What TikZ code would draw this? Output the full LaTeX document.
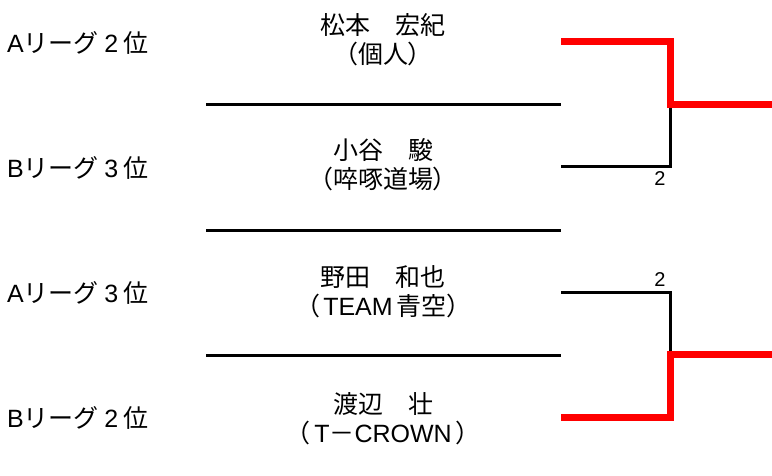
\documentclass[tikz,border=0pt]{standalone}
\usepackage{fontspec}
\setmainfont{Noto Sans CJK JP}
\newfontfamily\pfont[RawFeature=+palt]{Noto Sans CJK JP}
\newfontfamily\lat{Liberation Sans}
\newcommand{\lp}{{\pfont （}}
\newcommand{\rp}{{\pfont ）}}
\newcommand{\dg}[1]{\makebox[1em]{\lat #1}}
\begin{document}
\begin{tikzpicture}[x=1pt,y=-1pt,
  lbl/.style={anchor=west,inner sep=0pt,font=\fontsize{25}{30}\selectfont},
  namebox/.style={align=center,inner sep=0pt,font=\fontsize{25}{29}\selectfont},
  sep/.style={line width=3pt},
  lose/.style={line width=3pt,line join=miter},
  win/.style={line width=7pt,draw=red,line join=miter},
  score/.style={inner sep=0pt,font=\lat\fontsize{20}{20}\selectfont}]
\useasboundingbox (0,0) rectangle (772,475);
% league labels
\node[lbl] (l1) at (7,43) {{\lat A}リーグ\dg{2}位};
\node[lbl] (l2) at (7,168) {{\lat B}リーグ\dg{3}位};
\node[lbl] (l3) at (7,293) {{\lat A}リーグ\dg{3}位};
\node[lbl] (l4) at (7,418) {{\lat B}リーグ\dg{2}位};
% names
\node[namebox] (n1) at (383,40) {松本　宏紀\\\lp 個人\rp};
\node[namebox] (n2) at (383,165) {小谷　駿\\\lp 啐啄道場\rp};
\node[namebox] (n3) at (383,292) {野田　和也\\\lp\,{\lat TEAM}\,青空\rp};
\node[namebox] (n4) at (383,419) {渡辺　壮\\\lp\,{\lat T}－{\lat CROWN}\,\rp};
% separators
\coordinate (s1a) at (206,104); \coordinate (s1b) at (561,104);
\coordinate (s2a) at (206,230); \coordinate (s2b) at (561,230);
\coordinate (s3a) at (206,355); \coordinate (s3b) at (561,355);
\draw[sep] (s1a) -- (s1b);
\draw[sep] (s2a) -- (s2b);
\draw[sep] (s3a) -- (s3b);
% bracket
\coordinate (p1) at (561,41);
\coordinate (p2) at (561,166);
\coordinate (p3) at (561,292);
\coordinate (p4) at (561,417);
\coordinate (j1) at (670,104);
\coordinate (j2) at (670,354);
\coordinate (w1) at (772,104);
\coordinate (w2) at (772,354);
\draw[lose] (p2) -| (j1);
\draw[lose] (p3) -| (j2);
\draw[win] (p1) -| (j1) -- (w1);
\draw[win] (p4) -| (j2) -- (w2);
\node[score] (sc1) at (660,179) {2};
\node[score] (sc2) at (660,280) {2};
\end{tikzpicture}
\end{document}
